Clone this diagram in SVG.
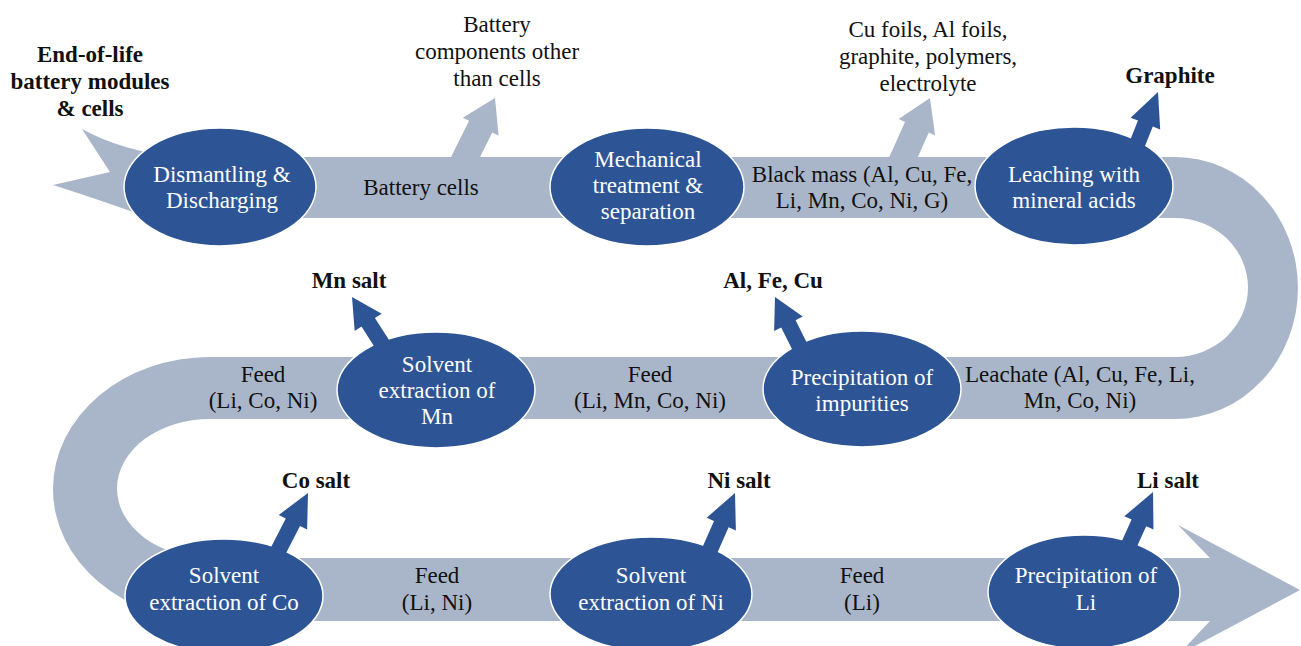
<svg xmlns="http://www.w3.org/2000/svg" width="1301" height="646" viewBox="0 0 1301 646">
<style>
.band{fill:#a9b6ca;}
.out{fill:#2d5596;}
.node ellipse{fill:#2d5596;stroke:#ffffff;stroke-width:1.5;}
text{font-family:'Liberation Serif','DejaVu Serif',serif;font-size:23px;text-anchor:middle;fill:#111111;}
.w{fill:#ffffff;}
.b{font-weight:bold;}
</style>
<rect width="1301" height="646" fill="#ffffff"/>
<g id="connectors">
<path class="band" d="M82,129 Q120,150 175,157 L1175,157 A123,131 0 0 1 1175,419 L210,419 A93,69.5 0 0 0 210,558 L1210,558 L1178,525 L1300,590 L1178,655 L1210,621 L210,621 A157,132 0 0 1 210,357 L1175,357 A73,69.5 0 0 0 1175,218 L150,218 Q100,200 53,185 L110,172 Z"/>
<polygon class="band" points="468.1,180.8 492.3,132.4 498.6,135.5 495,98 462.8,117.7 469.1,120.8 444.9,169.2"/>
<polygon class="band" points="907.4,180.3 928.8,132.5 935.1,135.4 930,98 898.7,119.0 905.0,121.9 883.6,169.7"/>
</g>
<g font-family="Liberation Serif, serif">
<g id="n1" class="node"><ellipse cx="220" cy="187" rx="96" ry="59"/><text class="w" x="222" y="182">Dismantling &amp;</text><text class="w" x="222" y="208">Discharging</text></g>
<g id="n2" class="node"><ellipse cx="647" cy="187" rx="97" ry="59"/><text class="w" x="648" y="167">Mechanical</text><text class="w" x="648" y="193">treatment &amp;</text><text class="w" x="648" y="219">separation</text></g>
<g id="n3" class="node"><ellipse cx="1074" cy="186" rx="99" ry="59"/><text class="w" x="1074" y="182">Leaching with</text><text class="w" x="1074" y="208">mineral acids</text></g>
<g id="n4" class="node"><ellipse cx="862" cy="389" rx="99" ry="58"/><text class="w" x="862" y="385">Precipitation of</text><text class="w" x="862" y="411">impurities</text></g>
<g id="n5" class="node"><ellipse cx="436" cy="390" rx="99" ry="58"/><text class="w" x="437" y="372">Solvent</text><text class="w" x="437" y="398">extraction of</text><text class="w" x="437" y="424">Mn</text></g>
<g id="n6" class="node"><ellipse cx="224" cy="596" rx="99" ry="57"/><text class="w" x="224" y="583">Solvent</text><text class="w" x="224" y="610">extraction of Co</text></g>
<g id="n7" class="node"><ellipse cx="651" cy="594" rx="101" ry="57"/><text class="w" x="651" y="583">Solvent</text><text class="w" x="651" y="610">extraction of Ni</text></g>
<g id="n8" class="node"><ellipse cx="1084" cy="592" rx="96" ry="57"/><text class="w" x="1086" y="583">Precipitation of</text><text class="w" x="1086" y="610">Li</text></g>
<g id="outputs">
<polygon class="out" points="396.4,351.6 374.9,318.0 381.7,313.7 352,297 354.7,330.9 361.5,326.6 383.0,360.2"/>
<polygon class="out" points="813.5,356.0 795.6,320.2 802.7,316.6 775,297 774.1,331.0 781.2,327.4 799.1,363.2"/>
<polygon class="out" points="1135.7,169.2 1152.8,126.6 1160.2,129.5 1158,92 1130.6,117.7 1138.0,120.6 1120.9,163.2"/>
<polygon class="out" points="278.5,567.7 300.0,526.0 307.1,529.6 308,493 278.7,515.0 285.8,518.6 264.3,560.3"/>
<polygon class="out" points="710.1,569.3 728.6,527.3 735.9,530.5 735,493 706.7,517.7 714.0,520.9 695.5,562.9"/>
<polygon class="out" points="1127.2,568.1 1146.2,526.2 1153.5,529.5 1153,492 1124.3,516.3 1131.6,519.6 1112.6,561.5"/>
</g>
<g id="labels">
<text class="b" x="90" y="62">End-of-life</text>
<text class="b" x="90" y="89">battery modules</text>
<text class="b" x="90" y="116">&amp; cells</text>
<text x="497" y="32">Battery</text>
<text x="497" y="59">components other</text>
<text x="497" y="86">than cells</text>
<text x="928" y="37">Cu foils, Al foils,</text>
<text x="928" y="64">graphite, polymers,</text>
<text x="928" y="91">electrolyte</text>
<text class="b" x="1170" y="83">Graphite</text>
<text x="421" y="195">Battery cells</text>
<text x="862" y="182">Black mass (Al, Cu, Fe,</text>
<text x="862" y="208">Li, Mn, Co, Ni, G)</text>
<text class="b" x="349" y="288">Mn salt</text>
<text class="b" x="773" y="288">Al, Fe, Cu</text>
<text x="263" y="382">Feed</text>
<text x="263" y="408">(Li, Co, Ni)</text>
<text x="650" y="382">Feed</text>
<text x="650" y="408">(Li, Mn, Co, Ni)</text>
<text x="1080" y="382">Leachate (Al, Cu, Fe, Li,</text>
<text x="1080" y="408">Mn, Co, Ni)</text>
<text class="b" x="316" y="488">Co salt</text>
<text class="b" x="739" y="488">Ni salt</text>
<text class="b" x="1168" y="488">Li salt</text>
<text x="437" y="583">Feed</text>
<text x="437" y="610">(Li, Ni)</text>
<text x="862" y="583">Feed</text>
<text x="862" y="610">(Li)</text>
</g>
</g>
</svg>
